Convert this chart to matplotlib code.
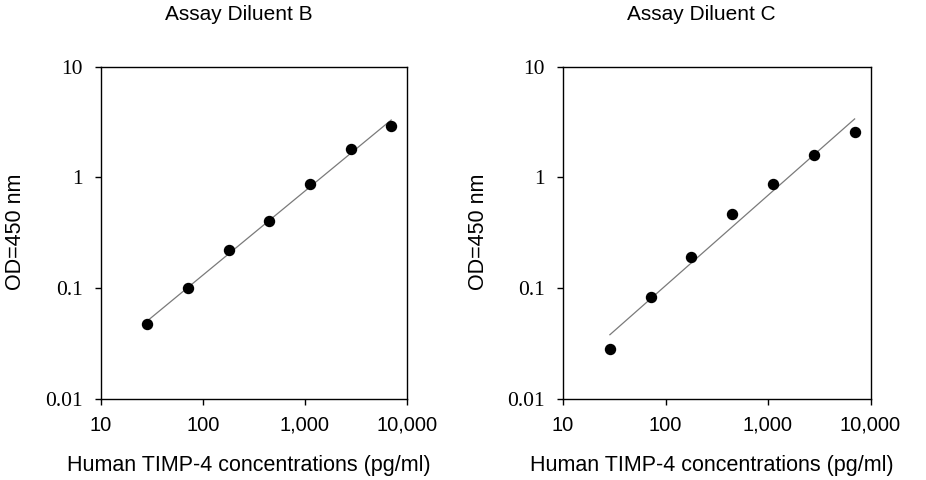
import numpy as np
import matplotlib
matplotlib.use("Agg")
import matplotlib.pyplot as plt
from matplotlib.ticker import FixedLocator, FixedFormatter, NullLocator

# Data
conc = [28.67, 71.68, 179.2, 448, 1120, 2800, 7000]
od_B = [0.0473, 0.1004, 0.222, 0.406, 0.867, 1.79, 2.91]
od_C = [0.0282, 0.0840, 0.192, 0.469, 0.874, 1.58, 2.58]
titles = ["Assay Diluent B", "Assay Diluent C"]
xticks = [10, 100, 1000, 10000]
xticklabels = ["10", "100", "1,000", "10,000"]
yticks = [0.01, 0.1, 1, 10]
yticklabels = ["0.01", "0.1", "1", "10"]
xlabel = "Human TIMP-4 concentrations (pg/ml)"
ylabel = "OD=450 nm"

fig = plt.figure(figsize=(9.26, 4.8), dpi=100)
W, H = 926, 480
axes_px = [(100.7, 407.0), (563.0, 870.5)]
top_px, bot_px = 66.7, 399.0

for i, (series, title) in enumerate(zip([od_B, od_C], titles)):
    l, r = axes_px[i]
    ax = fig.add_axes([l / W, 1 - bot_px / H, (r - l) / W, (bot_px - top_px) / H])
    ax.set_xscale("log")
    ax.set_yscale("log")
    ax.set_xlim(10, 10000)
    ax.set_ylim(0.01, 10)

    lx = np.log10(conc)
    ly = np.log10(series)
    k, b = np.polyfit(lx, ly, 1)
    fx = np.array([lx[0], lx[-1]])
    ax.plot(10 ** fx, 10 ** (k * fx + b), color="#7a7a7a", lw=0.9, zorder=2)
    ax.plot(conc, series, "o", color="black", ms=7.2, zorder=3)

    ax.xaxis.set_major_locator(FixedLocator(xticks))
    ax.xaxis.set_major_formatter(FixedFormatter(xticklabels))
    ax.xaxis.set_minor_locator(NullLocator())
    ax.yaxis.set_major_locator(FixedLocator(yticks))
    ax.yaxis.set_major_formatter(FixedFormatter(yticklabels))
    ax.yaxis.set_minor_locator(NullLocator())

    ax.tick_params(axis="both", direction="out", length=4, width=1, color="black")
    ax.tick_params(axis="x", pad=8)
    ax.tick_params(axis="y", pad=9)
    for lab in ax.get_xticklabels():
        lab.set_fontfamily("Liberation Sans")
        lab.set_fontsize(14.5)
    for lab in ax.get_yticklabels():
        lab.set_fontfamily("Liberation Serif")
        lab.set_fontsize(15.5)
    for sp in ax.spines.values():
        sp.set_linewidth(1.0)
        sp.set_color("black")

    cx = (l + r) / 2 - 15
    fig.text(cx / W, 1 - 14 / H, title, ha="center", va="center",
             fontfamily="Liberation Sans", fontsize=15)
    fig.text(((l + r) / 2 - 5) / W, 1 - 466 / H, xlabel, ha="center", va="center",
             fontfamily="Liberation Sans", fontsize=15.5)
    fig.text((l - 85) / W, 1 - 232 / H, ylabel, ha="center", va="center",
             rotation=90, fontfamily="Liberation Sans", fontsize=15.5)

fig.savefig("out.png", dpi=100)
